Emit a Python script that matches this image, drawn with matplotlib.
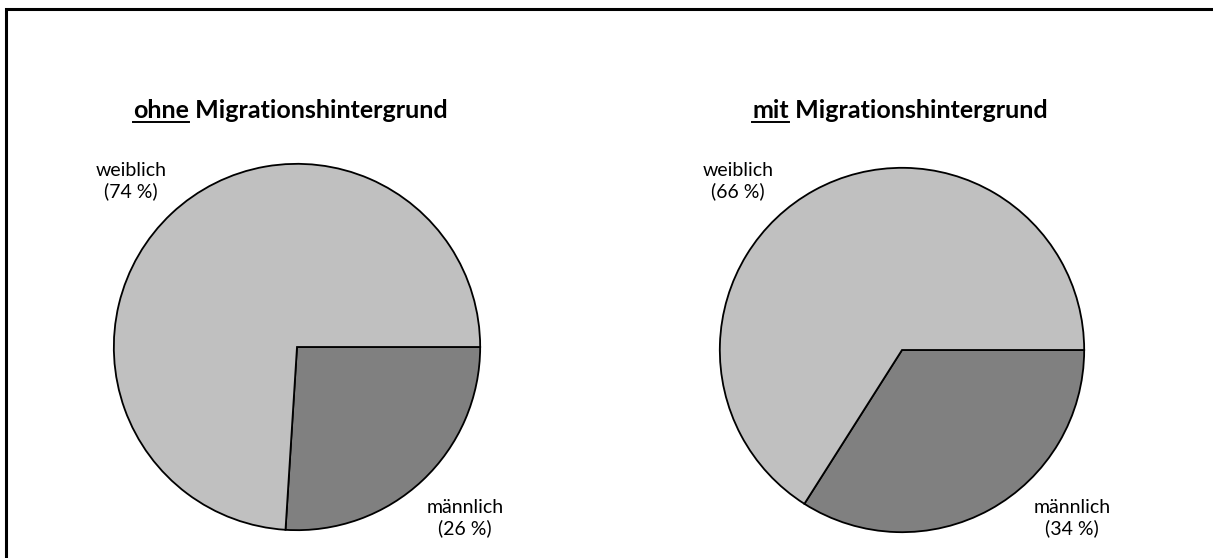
import matplotlib
matplotlib.use("Agg")
import matplotlib.pyplot as plt
from matplotlib.patches import Rectangle
from matplotlib.lines import Line2D

plt.rcParams['font.family'] = ['Lato', 'DejaVu Sans']

categories = ["männlich", "weiblich"]
ohne_values = [26, 74]
mit_values = [34, 66]
titles_prefix = ["ohne", "mit"]
title_rest = " Migrationshintergrund"
colors = ["#808080", "#C0C0C0"]

W, H = 1213, 558
fig = plt.figure(figsize=(W / 100, H / 100), dpi=100)
fig.patch.set_facecolor("white")

# Outer frame (continues beyond right/bottom edge)
fig.patches.append(Rectangle((6 / W, -0.5), 3.0, (H - 9) / H + 0.5,
                             transform=fig.transFigure, fill=False,
                             edgecolor="black", linewidth=2.2, clip_on=False))

def add_pie(cx, cy, r, values, prefix, title_cx, lab_w, lab_m):
    ax = fig.add_axes([(cx - r) / W, (H - cy - r) / H, 2 * r / W, 2 * r / H])
    ax.pie(values, colors=colors, startangle=0, counterclock=False, radius=1,
           wedgeprops=dict(edgecolor="black", linewidth=1.3))
    ax.set_xlim(-1.01, 1.01)
    ax.set_ylim(-1.01, 1.01)
    ax.set_aspect("equal")
    ax.axis("off")
    # labels
    fig.text(lab_w[0] / W, 1 - lab_w[1] / H,
             f"{categories[1]}\n({values[1]} %)", ha="center", va="center",
             fontsize=14, linespacing=1.2)
    fig.text(lab_m[0] / W, 1 - lab_m[1] / H,
             f"{categories[0]}\n({values[0]} %)", ha="center", va="center",
             fontsize=14, linespacing=1.2)
    # title with underlined prefix
    renderer = fig.canvas.get_renderer()
    t1 = fig.text(0, 0, prefix, fontsize=18, fontweight="bold")
    t2 = fig.text(0, 0, title_rest, fontsize=18, fontweight="bold")
    w1 = t1.get_window_extent(renderer).width
    w2 = t2.get_window_extent(renderer).width
    x0 = title_cx - (w1 + w2) / 2
    base_y = 118
    t1.set_position((x0 / W, 1 - base_y / H))
    t2.set_position(((x0 + w1) / W, 1 - base_y / H))
    t1.set_va("baseline")
    t2.set_va("baseline")
    fig.lines.append(Line2D([x0 / W, (x0 + w1) / W],
                            [1 - (base_y + 3.5) / H, 1 - (base_y + 3.5) / H],
                            transform=fig.transFigure, color="black",
                            linewidth=1.4))

add_pie(297, 347, 185, ohne_values, titles_prefix[0], 290, (131, 181), (465, 518))
add_pie(902, 350, 184, mit_values, titles_prefix[1], 900, (738, 181), (1072, 518))

fig.savefig("out.png", dpi=100, facecolor="white")
